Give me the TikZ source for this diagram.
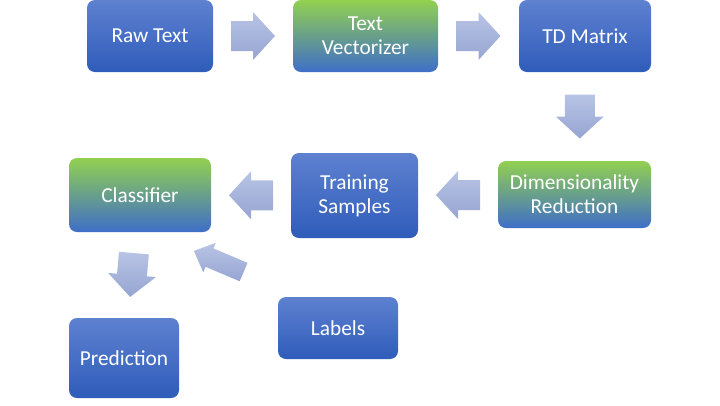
\documentclass[tikz,border=0pt]{standalone}
\usepackage{fontspec}
\setmainfont{Carlito}
\usetikzlibrary{calc}
\definecolor{boxtop}{RGB}{94,129,208}
\definecolor{boxbot}{RGB}{47,92,186}
\definecolor{greentop}{RGB}{146,208,80}
\definecolor{greenmid}{RGB}{108,162,140}
\definecolor{greenbot}{RGB}{62,110,200}
\definecolor{arrtop}{RGB}{184,196,229}
\definecolor{arrbot}{RGB}{150,165,210}
\tikzset{
  box/.style={rectangle, rounded corners=6pt, text=white, align=center,
    font=\fontsize{16}{18}\selectfont, inner sep=0pt},
  bluebox/.style={box, top color=boxtop, bottom color=boxbot},
  greenbox/.style={box, top color=greentop, middle color=greenmid, bottom color=greenbot},
  arrfill/.style={top color=arrtop, bottom color=arrbot, draw=none},
  blockarrow/.pic={
    \path[arrfill] (-22,-15) -- (0,-15) -- (0,-24) -- (22,0) -- (0,24) -- (0,15) -- (-22,15) -- cycle;
  },
  slimarrow/.pic={
    \path[arrfill] (-27,-10) -- (10,-10) -- (10,-16) -- (27,0) -- (10,16) -- (10,10) -- (-27,10) -- cycle;
  }
}
\begin{document}
\begin{tikzpicture}[x=0.75pt,y=-0.75pt]
\useasboundingbox (0,0) rectangle (720,405);
\node[bluebox, minimum width=94.5pt, minimum height=54pt] (raw) at (150,36) {Raw Text};
\node[greenbox, minimum width=108.75pt, minimum height=54pt] (vec) at (365.5,36) {Text\\Vectorizer};
\node[bluebox, minimum width=99pt, minimum height=54pt] (td) at (585,36) {TD Matrix};
\node[greenbox, minimum width=114.75pt, minimum height=50.25pt] (dr) at (574.5,194.5) {Dimensionality\\Reduction};
\node[bluebox, minimum width=95.25pt, minimum height=63.75pt] (ts) at (354.5,195.5) {Training\\Samples};
\node[greenbox, minimum width=106.5pt, minimum height=55.5pt] (cls) at (140,195) {Classifier};
\node[bluebox, minimum width=82.5pt, minimum height=60pt] (pred) at (124,358) {Prediction};
\node[bluebox, minimum width=90pt, minimum height=46.5pt] (lab) at (338,328) {Labels};

\pic at ($(raw.east)!0.5!(vec.west)$) {blockarrow};
\pic at ($(vec.east)!0.5!(td.west)$) {blockarrow};
\pic[rotate=-90] at ($(td.south)!0.5!(dr.north)$) {blockarrow};
\pic[rotate=180] at ($(ts.east)!0.5!(dr.west)$) {blockarrow};
\pic[rotate=180] at ($(cls.east)!0.5!(ts.west)$) {blockarrow};
\pic[rotate=-95] at ($(cls.south)!0.5!(pred.north)$) {blockarrow};
\pic[rotate=157] at ($($(cls.south east)!0.5!(lab.north west)$)+(-25.75,-3)$) {slimarrow};
\end{tikzpicture}
\end{document}
